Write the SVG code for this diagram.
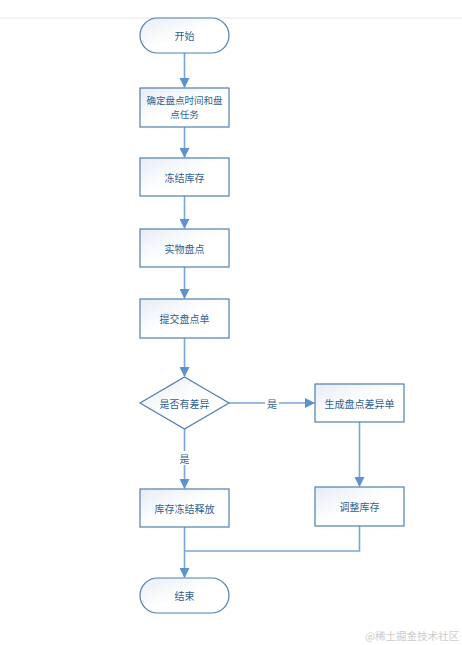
<svg xmlns="http://www.w3.org/2000/svg" width="462" height="645" viewBox="0 0 462 645">
<defs>
<linearGradient id="g" x1="0" y1="0" x2="1" y2="1">
<stop offset="0" stop-color="#e6ecf5"/>
<stop offset="0.5" stop-color="#ffffff"/>
<stop offset="1" stop-color="#ffffff"/>
</linearGradient>
<marker id="ah" markerWidth="10" markerHeight="10" refX="9" refY="5" orient="auto" markerUnits="userSpaceOnUse">
<path d="M0,0 L10,5 L0,10 Z" fill="#5b93cf"/>
</marker>
<style>
.n{fill:url(#g);stroke:#4f7fae;stroke-width:1.2}
.t{font-family:"Noto Sans CJK SC","Liberation Sans",sans-serif;font-size:10px;fill:#2f5f92;text-anchor:middle;dominant-baseline:central}
.c{fill:none;stroke:#7aa6d6;stroke-width:1.6}
.a{marker-end:url(#ah)}
.l{font-family:"Noto Sans CJK SC","Liberation Sans",sans-serif;font-size:10px;fill:#2f5f92;text-anchor:middle;dominant-baseline:central}
</style>
</defs>
<rect width="462" height="645" fill="#ffffff"/>
<line x1="0" y1="18" x2="462" y2="18" stroke="#e6e6e6" stroke-width="1"/>
<g id="connectors">
<path class="c a" d="M184.5,53 V87"/>
<path class="c a" d="M184.5,127 V157"/>
<path class="c a" d="M184.5,196 V228"/>
<path class="c a" d="M184.5,267 V298"/>
<path class="c a" d="M184.5,338 V376"/>
<path class="c a" d="M229,403 H314"/>
<rect x="265" y="396" width="14" height="14" fill="#ffffff"/>
<text class="l" x="272" y="403">是</text>
<path class="c a" d="M184.5,429 V488"/>
<rect x="177" y="451" width="15" height="14" fill="#ffffff"/>
<text class="l" x="184.5" y="458">是</text>
<path class="c a" d="M359.5,422 V486"/>
<path class="c a" d="M184.5,527 V577"/>
<path class="c" d="M359.5,526 V551 H184.5"/>
</g>
<g id="start"><rect class="n" x="140" y="18" width="89" height="35" rx="17.5"/><text class="t" x="184.5" y="35.5">开始</text></g>
<g id="n1"><rect class="n" x="140" y="88" width="89" height="39"/><text class="t" x="184.5" y="100" style="font-size:9.5px">确定盘点时间和盘</text><text class="t" x="184.5" y="114" style="font-size:9.5px">点任务</text></g>
<g id="n2"><rect class="n" x="140" y="158" width="89" height="38"/><text class="t" x="184.5" y="177">冻结库存</text></g>
<g id="n3"><rect class="n" x="140" y="229" width="89" height="38"/><text class="t" x="184.5" y="248">实物盘点</text></g>
<g id="n4"><rect class="n" x="140" y="299" width="89" height="39"/><text class="t" x="184.5" y="318.5">提交盘点单</text></g>
<g id="d1"><polygon class="n" points="184.5,377 229,403 184.5,429 140,403"/><text class="t" x="184.5" y="403">是否有差异</text></g>
<g id="n5"><rect class="n" x="315" y="384" width="89" height="38"/><text class="t" x="359.5" y="403">生成盘点差异单</text></g>
<g id="n6"><rect class="n" x="140" y="489" width="89" height="38"/><text class="t" x="184.5" y="508">库存冻结释放</text></g>
<g id="n7"><rect class="n" x="315" y="487" width="89" height="39"/><text class="t" x="359.5" y="506.5">调整库存</text></g>
<g id="end"><rect class="n" x="140" y="578" width="89" height="35" rx="17.5"/><text class="t" x="184.5" y="595.5">结束</text></g>
<text x="459" y="635" font-family="Noto Sans CJK SC,sans-serif" font-size="10.5" fill="#cccccc" text-anchor="end" dominant-baseline="central">@稀土掘金技术社区</text>
</svg>
